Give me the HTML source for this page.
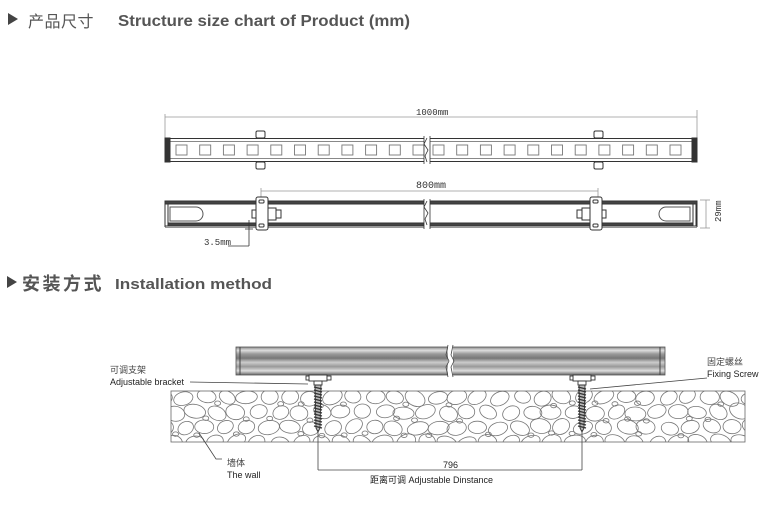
<!DOCTYPE html>
<html><head><meta charset="utf-8"><style>
html,body{margin:0;padding:0;background:#fff;width:772px;height:509px;overflow:hidden}
svg{display:block}
.t{font-family:"Liberation Sans","Noto Sans CJK SC",sans-serif}
.m{font-family:"Liberation Mono","Liberation Sans",monospace}
</style></head><body>
<svg id="s" width="772" height="509" viewBox="0 0 772 509" xmlns="http://www.w3.org/2000/svg">
<defs>
<linearGradient id="g" x1="0" y1="0" x2="0" y2="1">
<stop offset="0" stop-color="#888"/><stop offset="0.12" stop-color="#ddd"/><stop offset="0.25" stop-color="#999"/><stop offset="0.4" stop-color="#777"/><stop offset="0.55" stop-color="#ccc"/><stop offset="0.7" stop-color="#999"/><stop offset="0.85" stop-color="#ddd"/><stop offset="1" stop-color="#666"/>
</linearGradient>
<clipPath id="wc"><rect x="171" y="391" width="574" height="51"/></clipPath>
</defs>
<!-- Title 1 -->
<polygon points="8,13 8,25 18,19" fill="#444"/>
<text x="28" y="27" class="t" font-size="16" fill="#555" letter-spacing="0.5">产品尺寸</text>
<text x="118" y="26" class="t" font-size="15.5" font-weight="bold" fill="#555" textLength="292" lengthAdjust="spacingAndGlyphs">Structure size chart of Product (mm)</text>
<!-- Title 2 -->
<polygon points="7,276 7,288 17,282" fill="#444"/>
<text x="22" y="290" class="t" font-size="18" font-weight="bold" fill="#555" letter-spacing="2.5">安装方式</text>
<text x="115" y="289" class="t" font-size="15" font-weight="bold" fill="#555" textLength="157" lengthAdjust="spacingAndGlyphs">Installation method</text>

<!-- 1000mm dimension -->
<g stroke="#999" stroke-width="0.8" fill="none">
<line x1="165" y1="117" x2="697" y2="117"/>
<line x1="165" y1="114" x2="165" y2="138"/>
<line x1="697" y1="110" x2="697" y2="138"/>
</g>
<text x="416" y="115" class="m" font-size="9" fill="#333">1000mm</text>

<!-- Bar 1 -->
<g fill="none" stroke="#333" stroke-width="1">
<line x1="168" y1="138.5" x2="695" y2="138.5"/>
<line x1="168" y1="161.5" x2="695" y2="161.5"/>
<line x1="168" y1="141.5" x2="695" y2="141.5" stroke="#888"/>
<line x1="168" y1="158.5" x2="695" y2="158.5" stroke="#888"/>
<rect x="165" y="138" width="5" height="24" fill="#333"/>
<rect x="692" y="138" width="5" height="24" fill="#333"/>
<rect x="256" y="131" width="9" height="7" rx="1.5"/>
<rect x="256" y="162" width="9" height="7" rx="1.5"/>
<rect x="594" y="131" width="9" height="7" rx="1.5"/>
<rect x="594" y="162" width="9" height="7" rx="1.5"/>
</g>
<g id="sq" fill="none" stroke="#777" stroke-width="0.9"></g>
<rect x="424" y="136" width="6" height="28" fill="#fff"/>
<path d="M424,136 L424,164 M430,136 L430,164 M427,138 l-3,6 l4,6 l-3,6 l2,6" stroke="#333" fill="none" stroke-width="0.8"/>

<!-- 800mm dimension -->
<g stroke="#999" stroke-width="0.8" fill="none">
<line x1="261" y1="191" x2="598" y2="191"/>
<line x1="261" y1="188" x2="261" y2="198"/>
<line x1="598" y1="188" x2="598" y2="198"/>
</g>
<text x="416" y="188" class="m" font-size="10" fill="#333">800mm</text>

<!-- Bar 2 -->
<g fill="none" stroke="#333" stroke-width="1">
<rect x="165" y="201" width="532" height="3" fill="#444"/>
<rect x="165" y="223" width="532" height="3" fill="#444"/>
<line x1="165" y1="227.5" x2="697" y2="227.5" stroke="#999"/>
<line x1="165" y1="201" x2="165" y2="227"/>
<line x1="697" y1="201" x2="697" y2="227"/>
<rect x="165" y="204" width="3" height="22" fill="#fff"/>
<rect x="693" y="204" width="3" height="22" fill="#fff"/>
<path d="M170,207 L196,207 A7,7 0 0 1 196,221 L170,221 Z" stroke="#555"/>
<path d="M690,207 L666,207 A7,7 0 0 0 666,221 L690,221 Z" stroke="#555"/>
<rect x="256" y="197" width="12" height="33" rx="2" fill="#fff"/>
<rect x="259" y="200" width="5" height="3" rx="1"/>
<rect x="259" y="224" width="5" height="3" rx="1"/>
<rect x="268" y="208" width="8" height="12" fill="#fff"/>
<rect x="276" y="210" width="5" height="8" fill="#fff"/>
<rect x="252" y="210" width="4" height="8" fill="#fff"/>
<rect x="590" y="197" width="12" height="33" rx="2" fill="#fff"/>
<rect x="593" y="200" width="5" height="3" rx="1"/>
<rect x="593" y="224" width="5" height="3" rx="1"/>
<rect x="582" y="208" width="8" height="12" fill="#fff"/>
<rect x="577" y="210" width="5" height="8" fill="#fff"/>
<rect x="602" y="210" width="4" height="8" fill="#fff"/>
</g>
<rect x="424" y="199" width="6" height="30" fill="#fff"/>
<path d="M424,199 L424,229 M430,199 L430,229 M427,201 l-3,6 l4,6 l-3,6 l2,6" stroke="#333" fill="none" stroke-width="0.8"/>
<!-- 3.5mm -->
<g stroke="#333" stroke-width="0.8" fill="none">
<line x1="249" y1="220" x2="249" y2="246"/>
<line x1="245" y1="229" x2="253" y2="229"/>
<line x1="228" y1="246" x2="249" y2="246"/>
</g>
<text x="204" y="245" class="m" font-size="9" fill="#333">3.5mm</text>
<!-- 29mm -->
<g stroke="#999" stroke-width="0.8" fill="none">
<line x1="706" y1="200" x2="706" y2="228"/>
<line x1="700" y1="200" x2="710" y2="200"/>
<line x1="700" y1="228" x2="710" y2="228"/>
</g>
<text x="0" y="0" class="m" font-size="9" fill="#333" transform="translate(721,222) rotate(-90)">29mm</text>

<!-- Installation bar -->
<rect x="236" y="347" width="429" height="28" fill="url(#g)" stroke="#555" stroke-width="0.8"/>
<line x1="240" y1="347" x2="240" y2="375" stroke="#444"/>
<line x1="660" y1="347" x2="660" y2="375" stroke="#444"/>
<rect x="448" y="345" width="5" height="32" fill="#fff"/>
<path d="M448,345 l-2,10 l3,6 l-3,6 l2,10 M453,345 l-2,10 l3,6 l-3,6 l2,10" stroke="#444" fill="none" stroke-width="0.8"/>

<!-- wall -->
<g clip-path="url(#wc)" id="stones" fill="none" stroke="#777" stroke-width="0.8"></g>
<rect x="171" y="391" width="574" height="51" fill="none" stroke="#666" stroke-width="0.8"/>

<!-- brackets & screws -->
<g id="scr" stroke="#333" stroke-width="0.9" fill="#fff"></g>

<!-- leaders -->
<g stroke="#444" stroke-width="0.8" fill="none">
<line x1="190" y1="382" x2="308" y2="384"/>
<line x1="707" y1="378" x2="590" y2="389"/>
<polyline points="199,433 216,459 222,459"/>
<line x1="318" y1="430" x2="318" y2="470"/>
<line x1="582" y1="430" x2="582" y2="470"/>
<line x1="318" y1="470" x2="582" y2="470"/>
</g>
<text x="110" y="373" class="t" font-size="9" fill="#444">可调支架</text>
<text x="110" y="385" class="t" font-size="9" fill="#222">Adjustable bracket</text>
<text x="707" y="365" class="t" font-size="9" fill="#444">固定螺丝</text>
<text x="707" y="377" class="t" font-size="9" fill="#222">Fixing Screw</text>
<text x="227" y="466" class="t" font-size="9" fill="#444">墙体</text>
<text x="227" y="478" class="t" font-size="9" fill="#222">The wall</text>
<text x="443" y="468" class="t" font-size="9" fill="#222">796</text>
<text x="370" y="483" class="t" font-size="9" fill="#222">距离可调  Adjustable Dinstance</text>
</svg>
<script>
var NS="http://www.w3.org/2000/svg";
function el(p,n,a){var e=document.createElementNS(NS,n);for(var k in a)e.setAttribute(k,a[k]);p.appendChild(e);return e;}
var sq=document.getElementById("sq");
for(var k=0;k<11;k++){el(sq,"rect",{x:176+k*23.7,y:145,width:11,height:10});}
for(var k=0;k<11;k++){el(sq,"rect",{x:433+k*23.7,y:145,width:11,height:10});}
var st=document.getElementById("stones");
var seed=7;function r(){seed=(seed*9301+49297)%233280;return seed/233280;}
for(var row=0;row<4;row++){for(var x=162;x<760;x+=21){
 var cx=x+(row%2)*10+r()*4,cy=396+row*15+r()*3;
 el(st,"ellipse",{cx:cx,cy:cy,rx:8+r()*3,ry:6+r()*1.5,transform:"rotate("+(-35+r()*70)+" "+cx+" "+cy+")"});
 if(r()<0.5) el(st,"ellipse",{cx:cx+11,cy:cy+7,rx:3,ry:2.2});
}}
var sc=document.getElementById("scr");
[318,582].forEach(function(x){
 el(sc,"rect",{x:x-9,y:375,width:18,height:6});
 el(sc,"rect",{x:x+9,y:376,width:4,height:4});
 el(sc,"rect",{x:x-12,y:376,width:3,height:4});
 el(sc,"rect",{x:x-4,y:381,width:8,height:4});
 el(sc,"path",{d:"M"+(x-3)+",385 L"+(x+3)+",385 L"+(x+2)+",428 L"+x+",432 L"+(x-2)+",428 Z",fill:"#bbb"});
 for(var y=387;y<428;y+=3){el(sc,"line",{x1:x-4,y1:y,x2:x+4,y2:y+2,"stroke-width":1.2});}
});
</script>
</body></html>
